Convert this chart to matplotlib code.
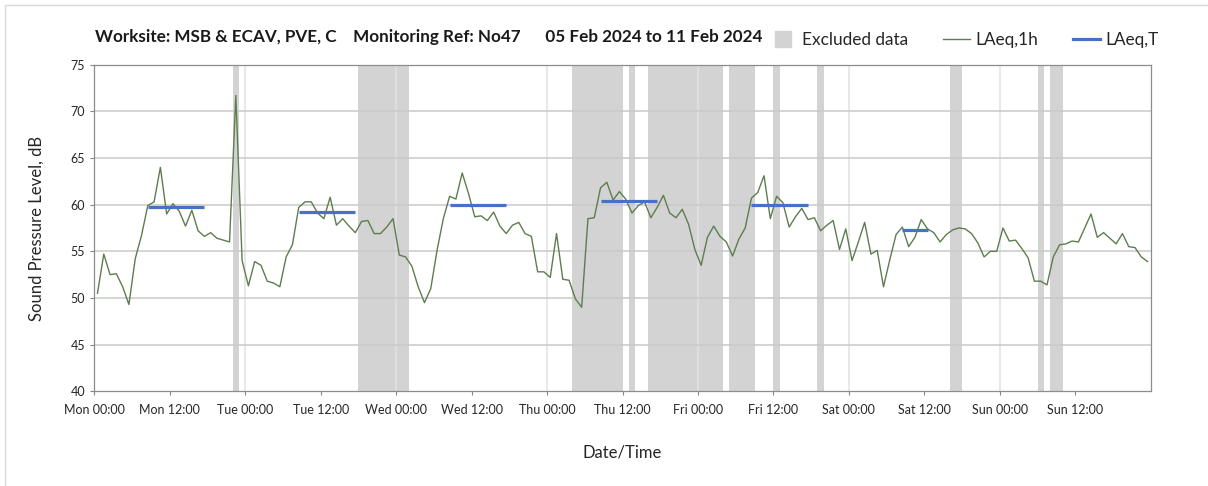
import matplotlib
matplotlib.use("Agg")
import matplotlib.pyplot as plt
from matplotlib.lines import Line2D
from matplotlib.patches import Rectangle
import numpy as np

plt.rcParams['font.family'] = ['Lato', 'DejaVu Sans']

# LAeq,1h values, one per hour from Mon 00:00 (plotted at mid-hour)
laeq_1h = [
    50.5, 54.7, 52.5, 52.6, 51.2, 49.3, 54.2, 56.7, 59.9, 60.3,
    64.0, 59.0, 60.1, 59.3, 57.7, 59.4, 57.2, 56.6, 57.0, 56.4,
    56.2, 56.0, 71.7, 54.0, 51.3, 53.9, 53.5, 51.8, 51.6, 51.2,
    54.4, 55.7, 59.7, 60.3, 60.3, 59.1, 58.5, 60.8, 57.8, 58.5,
    57.7, 57.0, 58.2, 58.3, 56.9, 56.9, 57.6, 58.5, 54.6, 54.4,
    53.4, 51.2, 49.5, 51.0, 55.1, 58.5, 60.9, 60.6, 63.4, 61.2,
    58.7, 58.8, 58.3, 59.2, 57.7, 56.9, 57.8, 58.1, 56.9, 56.6,
    52.8, 52.8, 52.2, 56.9, 52.0, 51.9, 49.9, 49.0, 58.5, 58.6,
    61.8, 62.4, 60.5, 61.4, 60.6, 59.1, 59.9, 60.3, 58.6, 59.7,
    61.0, 59.1, 58.6, 59.5, 57.9, 55.2, 53.5, 56.5, 57.7, 56.6,
    56.0, 54.5, 56.3, 57.5, 60.7, 61.3, 63.1, 58.5, 60.9, 60.2,
    57.6, 58.7, 59.6, 58.4, 58.6, 57.2, 57.8, 58.3, 55.2, 57.4,
    54.0, 56.0, 58.1, 54.7, 55.1, 51.2, 54.1, 56.8, 57.6, 55.5,
    56.5, 58.4, 57.4, 57.0, 56.0, 56.8, 57.3, 57.5, 57.4, 56.9,
    55.9, 54.4, 55.0, 55.0, 57.5, 56.1, 56.2, 55.3, 54.3, 51.8,
    51.8, 51.4, 54.4, 55.7, 55.8, 56.1, 56.0, 57.5, 59.0, 56.5,
    57.0, 56.4, 55.8, 56.9, 55.5, 55.4, 54.4, 53.9,
]

# excluded data periods, hours from Mon 00:00
excl_start = [22, 42, 76, 85, 88, 101, 108, 115, 136, 150, 152]
excl_end = [23, 50, 84, 86, 100, 105, 109, 116, 138, 151, 154]

# LAeq,T daytime periods
lt_start = [8.5, 32.5, 56.5, 80.5, 104.5, 128.5]
lt_end = [17.5, 41.5, 65.5, 89.5, 113.5, 132.5]
lt_level = [59.8, 59.2, 60.0, 60.4, 60.0, 57.3]

tick_labels = ["Mon 00:00", "Mon 12:00", "Tue 00:00", "Tue 12:00", "Wed 00:00",
               "Wed 12:00", "Thu 00:00", "Thu 12:00", "Fri 00:00", "Fri 12:00",
               "Sat 00:00", "Sat 12:00", "Sun 00:00", "Sun 12:00"]

hours = np.arange(len(laeq_1h)) + 0.5

fig = plt.figure(figsize=(12.08, 4.86), dpi=100)
ax = fig.add_axes([0.0781, 0.1949, 0.8745, 0.672])

# bands of excluded data
for s, e in zip(excl_start, excl_end):
    ax.axvspan(s, e, color='#d3d3d3', lw=0, zorder=1)

# grid: horizontal every 5 dB, vertical at midnights
for yv in range(45, 76, 5):
    ax.axhline(yv, color='#c9c9c9', lw=1.1, zorder=1.5)
for xv in range(24, 168, 24):
    ax.axvline(xv, color='#e2e2e2', lw=1.1, zorder=1.2)

ax.plot(hours, laeq_1h, color='#5e7d4e', lw=1.0, zorder=3)
for s, e, lv in zip(lt_start, lt_end, lt_level):
    ax.plot([s, e], [lv, lv], color='#4472c4', lw=2.3, zorder=4,
            solid_capstyle='butt')

ax.set_xlim(0, 168)
ax.set_ylim(40, 75)
ax.set_xticks(np.arange(0, 168, 12))
ax.set_xticklabels(tick_labels)
ax.set_yticks(np.arange(40, 76, 5))
ax.tick_params(axis='both', direction='out', length=3, width=0.8,
               color='#868686', labelsize=9, labelcolor='#262626')
ax.tick_params(axis='x', pad=6)
for sp in ax.spines.values():
    sp.set_color('#8c8c8c')
    sp.set_linewidth(0.9)

ax.set_xlabel('Date/Time', fontsize=12, color='#262626', labelpad=21)
ax.set_ylabel('Sound Pressure Level, dB', fontsize=12, color='#262626', labelpad=19)

fig.text(0.0786, 0.924, 'Worksite: MSB & ECAV, PVE, C    Monitoring Ref: No47      '
         '05 Feb 2024 to 11 Feb 2024', fontsize=12.3, fontweight='bold',
         va='center', ha='left', color='#1a1a1a')

handles = [
    Line2D([], [], marker='s', markersize=11, color='#d3d3d3', linestyle='none'),
    Line2D([], [], color='#5e7d4e', lw=1.0),
    Line2D([], [], color='#4472c4', lw=2.3),
]
fig.legend(handles, ['Excluded data', 'LAeq,1h', 'LAeq,T'], ncol=3,
           loc='center right', bbox_to_anchor=(0.972, 0.917), frameon=False,
           fontsize=12.4, handlelength=1.6, handletextpad=0.3, columnspacing=2.0,
           labelcolor='#262626')

# light outer chart border (top and left visible)
fig.patches.append(Rectangle((5 / 1208, -0.05), 1.2, 1.05 - 5 / 486,
                             transform=fig.transFigure, fill=False,
                             edgecolor='#d9d9d9', lw=1.0))

fig.savefig('out.png', dpi=100)
